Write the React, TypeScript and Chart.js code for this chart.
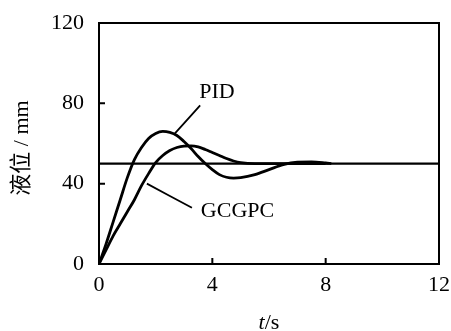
import React, { useEffect, useRef } from "react";
import { Chart, registerables } from "chart.js";

Chart.register(...registerables);

const pidT = [0, 0.25, 0.5, 0.75, 1, 1.25, 1.5, 1.75, 2, 2.25, 2.5, 2.75, 3, 3.25, 3.5, 3.75, 4, 4.25, 4.5, 4.75, 5, 5.5, 6, 6.5, 7, 7.5, 8, 8.2];
const pidV = [0, 10, 21, 32, 43, 52, 58, 62.5, 65, 66, 65.5, 64, 61, 57.5, 53.5, 50, 47, 44.5, 43.2, 42.8, 43, 44.5, 47, 49.5, 50.7, 50.8, 50.3, 50];
const gcT = [0, 0.25, 0.5, 0.75, 1, 1.25, 1.5, 1.75, 2, 2.25, 2.5, 2.75, 3, 3.25, 3.5, 3.75, 4, 4.25, 4.5, 4.75, 5, 5.5, 6, 8];
const gcV = [0, 7, 14, 20, 26, 32, 39, 45, 50.5, 54, 56.5, 58, 58.7, 58.8, 58.3, 57, 55.5, 54, 52.5, 51.3, 50.5, 50, 50, 50];
const setT = [0, 12];
const setV = [50, 50];
const pidLeaderT = [3.57, 2.68];
const pidLeaderV = [79, 65];
const gcLeaderT = [1.69, 3.28];
const gcLeaderV = [40, 28];
const labelNames = ["PID", "GCGPC"];
const labelT = [4.16, 4.89];
const labelV = [85.7, 26.5];
const xTicks = [4, 8];
const yTicks = [40, 80];

const zip = (a: number[], b: number[]) => a.map((x, i) => ({ x, y: b[i] }));
const SERIF = "'Liberation Serif', 'Times New Roman', serif";

export default function App() {
  const ref = useRef<HTMLCanvasElement>(null);
  useEffect(() => {
    document.body.style.margin = "0";
    const ctx = ref.current!.getContext("2d")!;
    const lineDs = (data: any, w: number) => ({
      data,
      borderColor: "#000",
      borderWidth: w,
      pointRadius: 0,
      fill: false,
      tension: 0.4,
      cubicInterpolationMode: "monotone" as const,
    });
    const deco = {
      id: "deco",
      afterDatasetsDraw(chart: any) {
        const c = chart.ctx;
        const a = chart.chartArea;
        const xs = chart.scales.x;
        const ys = chart.scales.y;
        c.save();
        c.strokeStyle = "#000";
        c.lineWidth = 2;
        c.strokeRect(a.left, a.top, a.right - a.left, a.bottom - a.top);
        c.beginPath();
        xTicks.forEach((t) => {
          const px = xs.getPixelForValue(t);
          c.moveTo(px, a.bottom);
          c.lineTo(px, a.bottom - 6);
        });
        yTicks.forEach((v) => {
          const py = ys.getPixelForValue(v);
          c.moveTo(a.left, py);
          c.lineTo(a.left + 6, py);
        });
        c.stroke();
        c.fillStyle = "#000";
        c.font = `22px ${SERIF}`;
        c.textAlign = "center";
        c.textBaseline = "middle";
        labelNames.forEach((n, i) => {
          c.fillText(n, xs.getPixelForValue(labelT[i]), ys.getPixelForValue(labelV[i]));
        });
        // x title
        c.textBaseline = "alphabetic";
        c.textAlign = "left";
        const cx = (a.left + a.right) / 2;
        c.font = `italic 22px ${SERIF}`;
        const w1 = c.measureText("t").width;
        c.font = `22px ${SERIF}`;
        const w2 = c.measureText("/s").width;
        const sx = cx - (w1 + w2) / 2;
        c.font = `italic 22px ${SERIF}`;
        c.fillText("t", sx, 329);
        c.font = `22px ${SERIF}`;
        c.fillText("/s", sx + w1, 329);
        // y title
        c.translate(22, 148);
        c.rotate(-Math.PI / 2);
        c.textAlign = "center";
        c.textBaseline = "middle";
        c.font = `22px ${SERIF}, 'Noto Sans CJK SC'`;
        c.fillText("液位 / mm", 0, 0);
        c.restore();
      },
    };
    const chart = new Chart(ctx, {
      type: "line",
      data: {
        datasets: [
          lineDs(zip(setT, setV), 2.2),
          lineDs(zip(pidT, pidV), 2.8),
          lineDs(zip(gcT, gcV), 2.8),
          { ...lineDs(zip(pidLeaderT, pidLeaderV), 1.8), tension: 0 },
          { ...lineDs(zip(gcLeaderT, gcLeaderV), 1.8), tension: 0 },
        ],
      },
      options: {
        animation: false,
        responsive: false,
        maintainAspectRatio: false,
        layout: { padding: { top: 23, right: 12, left: 0, bottom: 0 } },
        plugins: { legend: { display: false }, tooltip: { enabled: false } },
        scales: {
          x: {
            type: "linear",
            min: 0,
            max: 12,
            grid: { display: false },
            border: { display: false },
            ticks: { stepSize: 4, color: "#000", padding: 0, font: { family: SERIF, size: 22 } },
            afterFit: (s: any) => { s.height = 67; },
          },
          y: {
            min: 0,
            max: 120,
            grid: { display: false },
            border: { display: false },
            ticks: { stepSize: 40, color: "#000", padding: 7, font: { family: SERIF, size: 22 } },
            afterFit: (s: any) => { s.width = 99; },
          },
        },
      },
      plugins: [deco],
    } as any);
    return () => chart.destroy();
  }, []);
  return (
    <div style={{ width: 451, height: 331, background: "#fff" }}>
      <canvas ref={ref} width={451} height={331} style={{ display: "block" }} />
    </div>
  );
}
